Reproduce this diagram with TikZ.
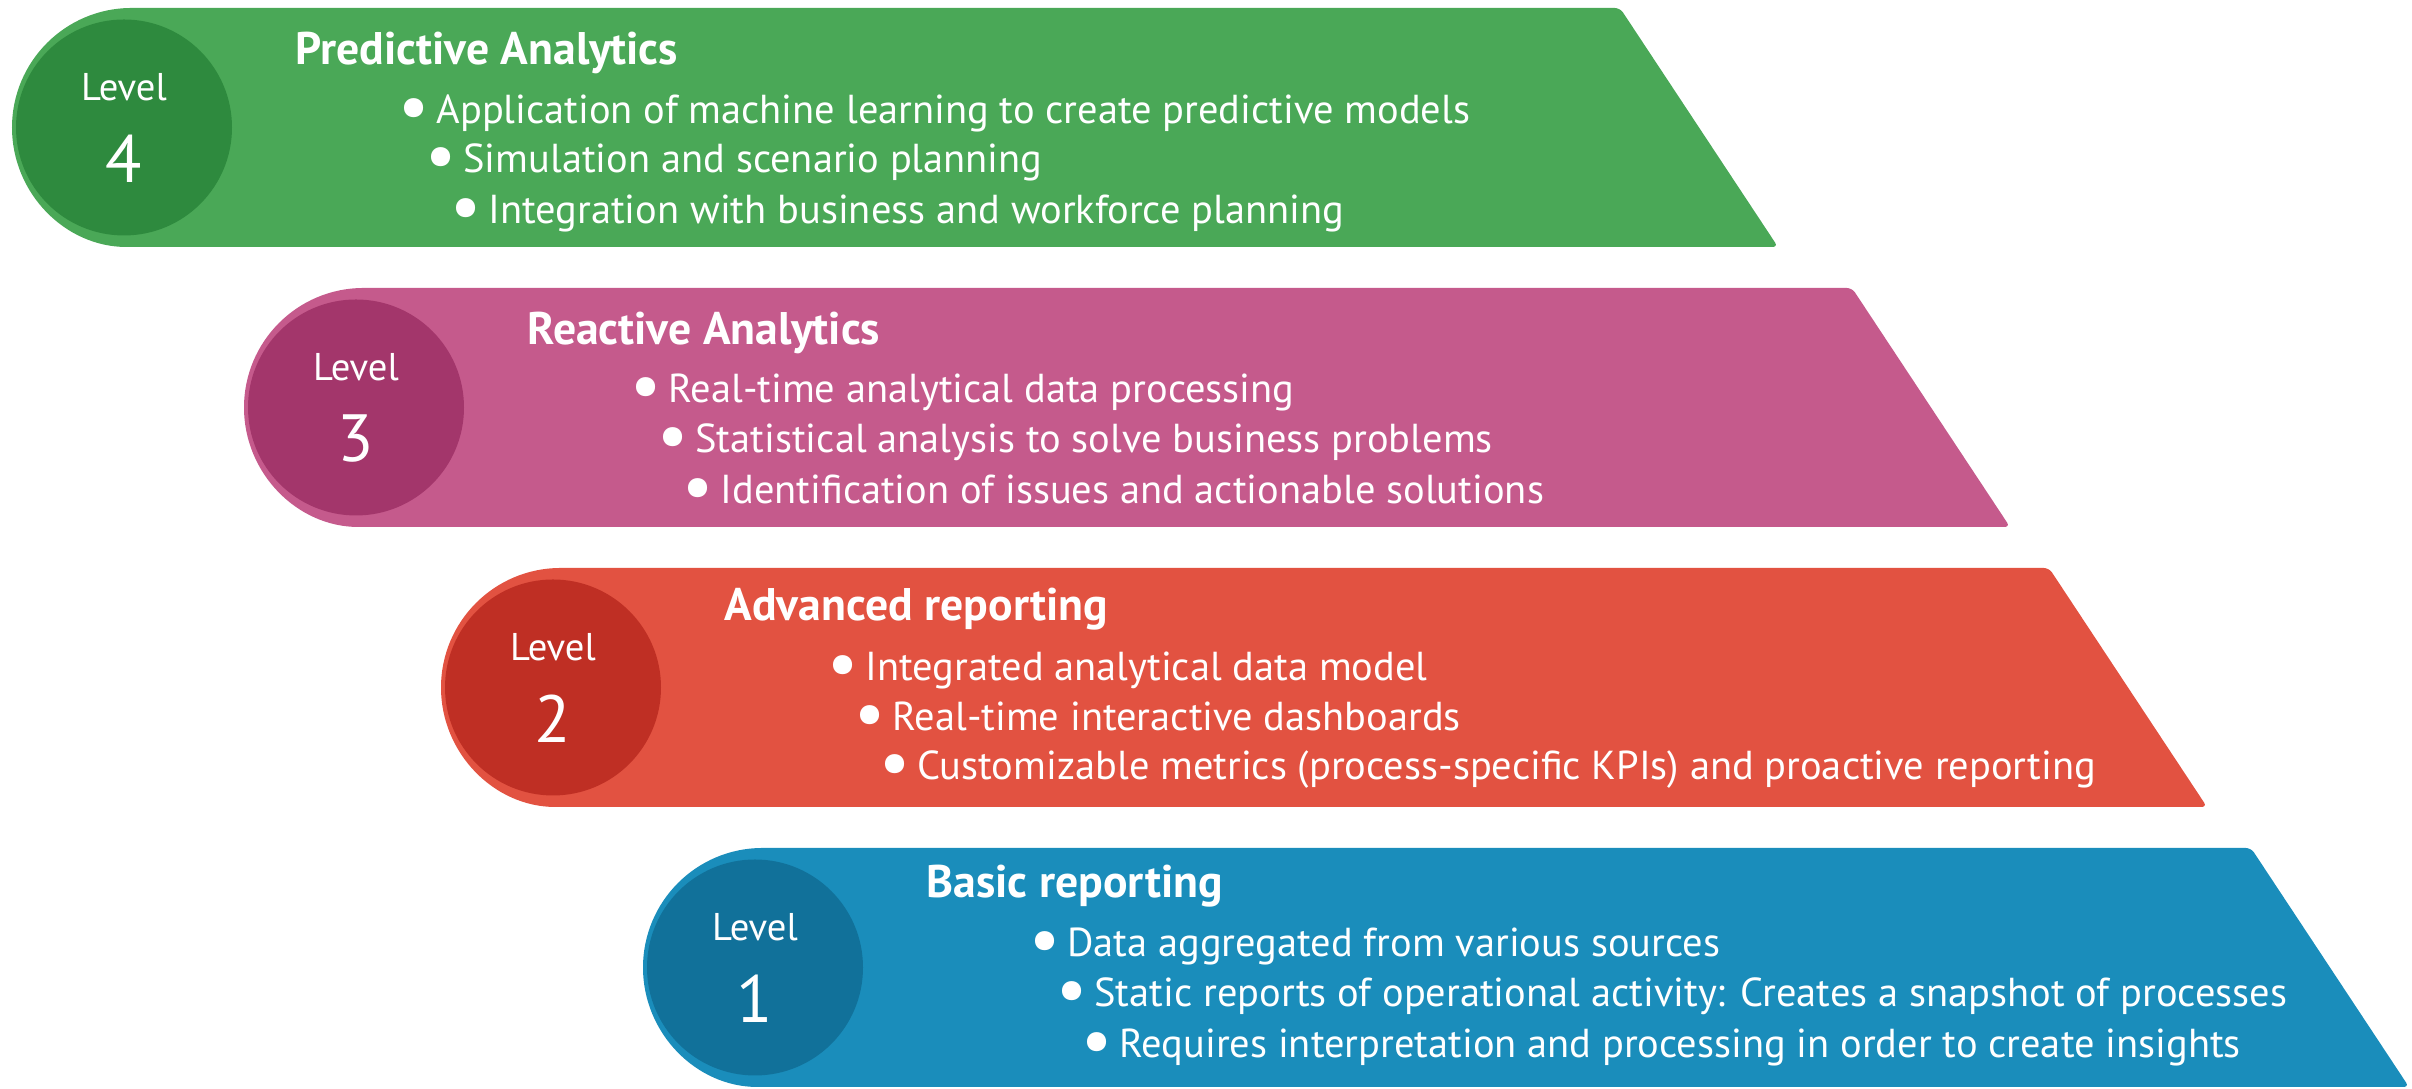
\documentclass[tikz,border=0pt]{standalone}
\usepackage{fontspec}
\setmainfont{PT Sans}
\usetikzlibrary{positioning}
\definecolor{GreenBand}{HTML}{4AA857}
\definecolor{GreenDot}{HTML}{2E8A3E}
\definecolor{PinkBand}{HTML}{C55A8C}
\definecolor{PinkDot}{HTML}{A3366B}
\definecolor{RedBand}{HTML}{E25241}
\definecolor{RedDot}{HTML}{BF2F24}
\definecolor{BlueBand}{HTML}{1A8DBB}
\definecolor{BlueDot}{HTML}{11719A}
\newcommand{\bul}{\raisebox{-0.3ex}{\scalebox{1.7}{•}}\,}
\tikzset{
  lvlcirc/.style={circle, minimum size=2.16cm, inner sep=0pt},
  lvltext/.style={text=white, font=\fontsize{11}{13}\selectfont},
  lvlnum/.style={text=white, font=\fontsize{19}{21}\selectfont},
  ttl/.style={anchor=west, text=white, inner sep=0pt, font=\fontsize{13}{15}\selectfont\bfseries},
  item/.style={anchor=west, text=white, inner sep=0pt, font=\fontsize{11.5}{13}\selectfont}
}

\begin{document}
\begin{tikzpicture}
  \useasboundingbox (0,0) rectangle (24.12,10.89);
  % level 4
  \fill[GreenBand, rounded corners=1.5pt] (1.315,10.81) -- (16.20,10.81) -- (17.78,8.42) -- (1.315,8.42) [sharp corners] arc (270:90:1.195) -- cycle;
  \node[lvlcirc, fill=GreenDot] (C4) at (1.24,9.615) {};
  \node[lvltext] (L4) at (1.24,10.02) {Level};
  \node[lvlnum] (N4) at (1.24,9.30) {4};
  \node[ttl] (T4) at (2.95,10.36) {Predictive Analytics};
  \node[item] (A4) at (3.98,9.76) {\bul Application of machine learning to create predictive models};
  \node[item] (B4) at (4.25,9.27) {\bul Simulation and scenario planning};
  \node[item] (E4) at (4.50,8.76) {\bul Integration with business and workforce planning};
  % level 3
  \fill[PinkBand, rounded corners=1.5pt] (3.635,8.01) -- (18.52,8.01) -- (20.10,5.62) -- (3.635,5.62) [sharp corners] arc (270:90:1.195) -- cycle;
  \node[lvlcirc, fill=PinkDot] (C3) at (3.56,6.815) {};
  \node[lvltext] (L3) at (3.56,7.22) {Level};
  \node[lvlnum] (N3) at (3.56,6.50) {3};
  \node[ttl] (T3) at (5.27,7.56) {Reactive Analytics};
  \node[item] (A3) at (6.30,6.97) {\bul Real-time analytical data processing};
  \node[item] (B3) at (6.57,6.47) {\bul Statistical analysis to solve business problems};
  \node[item] (E3) at (6.82,5.97) {\bul Identification of issues and actionable solutions};
  % level 2
  \fill[RedBand, rounded corners=1.5pt] (5.605,5.21) -- (20.49,5.21) -- (22.07,2.82) -- (5.605,2.82) [sharp corners] arc (270:90:1.195) -- cycle;
  \node[lvlcirc, fill=RedDot] (C2) at (5.53,4.015) {};
  \node[lvltext] (L2) at (5.53,4.42) {Level};
  \node[lvlnum] (N2) at (5.53,3.70) {2};
  \node[ttl] (T2) at (7.24,4.80) {Advanced reporting};
  \node[item] (A2) at (8.27,4.19) {\bul Integrated analytical data model};
  \node[item] (B2) at (8.54,3.70) {\bul Real-time interactive dashboards};
  \node[item] (E2) at (8.79,3.19) {\bul Customizable metrics (process-specific KPIs) and proactive reporting};
  % level 1
  \fill[BlueBand, rounded corners=1.5pt] (7.625,2.41) -- (22.51,2.41) -- (24.09,0.02) -- (7.625,0.02) [sharp corners] arc (270:90:1.195) -- cycle;
  \node[lvlcirc, fill=BlueDot] (C1) at (7.55,1.215) {};
  \node[lvltext] (L1) at (7.55,1.62) {Level};
  \node[lvlnum] (N1) at (7.55,0.90) {1};
  \node[ttl] (T1) at (9.26,2.03) {Basic reporting};
  \node[item] (A1) at (10.29,1.43) {\bul Data aggregated from various sources};
  \node[item] (B1) at (10.56,0.93) {\bul Static reports of operational activity: Creates a snapshot of processes};
  \node[item] (E1) at (10.81,0.42) {\bul Requires interpretation and processing in order to create insights};
\end{tikzpicture}
\end{document}
